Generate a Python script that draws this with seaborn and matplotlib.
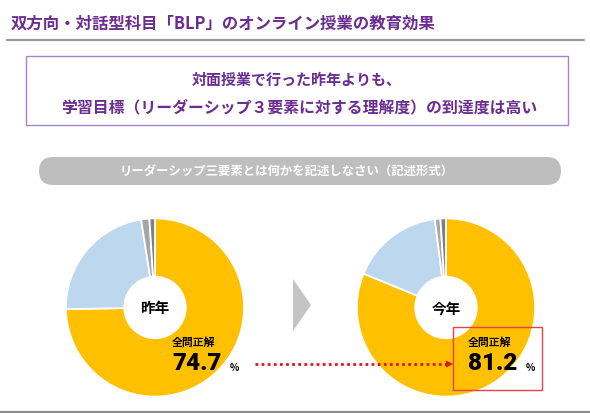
import matplotlib
matplotlib.use("Agg")
import matplotlib.pyplot as plt
from matplotlib.patches import Rectangle, FancyBboxPatch, Polygon
import seaborn as sns

# ---- data ----
categories = ["全問正解", "部分正解", "不正解", "無回答"]
last_year = [74.7, 22.8, 1.5, 1.0]
this_year = [81.2, 16.8, 1.0, 1.0]
year_labels = ["昨年", "今年"]
title = "双方向・対話型科目「BLP」のオンライン授業の教育効果"
box_lines = ["対面授業で行った昨年よりも、",
             "学習目標（リーダーシップ３要素に対する理解度）の到達度は高い"]
question = "リーダーシップ三要素とは何かを記述しなさい（記述形式）"
colors = ["#FFC000", "#BDD7EE", "#A6A6A6", "#7F7F7F"]

sns.set_theme(style="white")
plt.rcParams['font.family'] = ['Noto Sans CJK JP', 'DejaVu Sans']

W, H = 590, 413
fig = plt.figure(figsize=(W / 100, H / 100), dpi=100)
fig.patch.set_facecolor("white")

# background axes in pixel coordinates
bg = fig.add_axes([0, 0, 1, 1])
bg.set_xlim(0, W)
bg.set_ylim(H, 0)
bg.axis("off")

purple = "#6B2D8F"
bg.text(11, 24, title, fontsize=11.8, fontweight="bold", color=purple,
        va="center", ha="left")
bg.plot([7, 584], [40, 40], color="#9A9A9A", lw=1.6)

bg.add_patch(Rectangle((26, 56), 542, 69, fill=False, edgecolor="#A484C8", lw=1.0))
bg.text(297, 80, box_lines[0], fontsize=10.8, fontweight="bold", color=purple,
        ha="center", va="center")
bg.text(299, 107, box_lines[1], fontsize=11.4, fontweight="bold", color=purple,
        ha="center", va="center")

bg.add_patch(FancyBboxPatch((39, 157), 522, 28,
                            boxstyle="round,pad=0,rounding_size=14",
                            facecolor="#BEBEBE", edgecolor="none"))
bg.text(287, 171, question, fontsize=8.9, fontweight="bold", color="white",
        ha="center", va="center")

bg.add_patch(Polygon([[293, 279], [311, 305], [293, 331]], closed=True,
                     facecolor="#C4C4C4", edgecolor="none"))
bg.plot([0, W], [412, 412], color="#8A8A8A", lw=1.6)

# donuts
R = 90
centers = [(155, 307.5), (446, 307.5)]
for (cx, cy), vals in zip(centers, [last_year, this_year]):
    ax = fig.add_axes([(cx - R) / W, (H - cy - R) / H, 2 * R / W, 2 * R / H])
    ax.pie(vals, colors=colors, startangle=90, counterclock=False,
           wedgeprops=dict(width=0.655, edgecolor="white", linewidth=1.3))
    ax.set_xlim(-1.01, 1.01)
    ax.set_ylim(-1.01, 1.01)
    ax.axis("off")

# overlay for texts
ov = fig.add_axes([0, 0, 1, 1])
ov.set_xlim(0, W)
ov.set_ylim(H, 0)
ov.axis("off")
ov.patch.set_alpha(0)

for (cx, cy), lab in zip(centers, year_labels):
    ov.text(cx, cy + 1, lab, fontsize=10.5, fontweight="bold", color="black",
            ha="center", va="center")

for x0, val in [(172, last_year[0]), (468, this_year[0])]:
    ov.text(x0, 343, categories[0], fontsize=7.8, fontweight="bold",
            color="black", ha="left", va="center")
    ov.text(x0, 364, f"{val:.1f}", fontsize=17.5, fontweight="black",
            color="black", ha="left", va="center",
            family=["Roboto", "DejaVu Sans"])
    ov.text(x0 + 58, 368, "%", fontsize=7, fontweight="bold", color="black",
            ha="left", va="center")

ov.add_patch(Rectangle((453, 327), 89, 63, fill=False, edgecolor="#E8414B", lw=1.0))
ov.plot([255, 446], [364, 364], color="#E8101E", lw=2.0, ls=(0, (1, 1.2)))
ov.add_patch(Polygon([[446, 360.5], [453, 364], [446, 367.5]], closed=True,
                     facecolor="#E8101E", edgecolor="none"))

fig.savefig("out.png", dpi=100, facecolor="white")
